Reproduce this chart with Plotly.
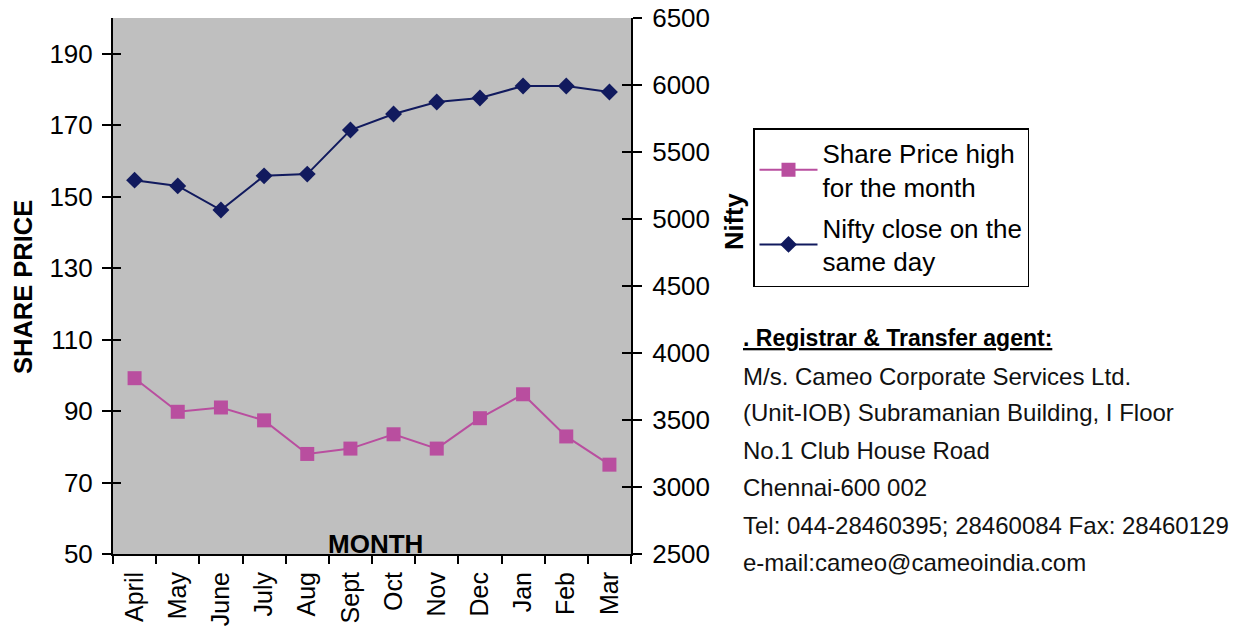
import plotly.graph_objects as go

months = ["April", "May", "June", "July", "Aug", "Sept", "Oct", "Nov", "Dec", "Jan", "Feb", "Mar"]
share_price_high = [99.2, 89.8, 91.0, 87.4, 78.0, 79.5, 83.5, 79.5, 88.0, 94.7, 82.9, 75.0]
nifty_close = [5290, 5247, 5067, 5322, 5335, 5664, 5784, 5873, 5903, 5993, 5993, 5948]

left_ticks = [50, 70, 90, 110, 130, 150, 170, 190]
right_ticks = [2500, 3000, 3500, 4000, 4500, 5000, 5500, 6000, 6500]

info_lines = [
    "M/s. Cameo Corporate Services Ltd.",
    "(Unit-IOB) Subramanian Building, I Floor",
    "No.1 Club House Road",
    "Chennai-600 002",
    "Tel: 044-28460395; 28460084 Fax: 28460129",
    "e-mail:cameo@cameoindia.com",
]

FONT = "Arial, Liberation Sans, sans-serif"
PINK = "#B94E9F"
NAVY = "#111A5E"

fig = go.Figure()
fig.add_trace(go.Scatter(
    x=months, y=share_price_high, name="Share Price high<br>for the month",
    legendgroup="a",
    mode="lines+markers", line=dict(color=PINK, width=2),
    marker=dict(symbol="square", size=14, color=PINK), yaxis="y", xaxis="x"))
fig.add_trace(go.Scatter(
    x=months, y=nifty_close, name="Nifty close on the<br>same day",
    legendgroup="b",
    mode="lines+markers", line=dict(color=NAVY, width=2),
    marker=dict(symbol="diamond", size=13, color=NAVY), yaxis="y2", xaxis="x"))
# invisible helpers so that inside-tick overlay axes are drawn (ticks crossing axis lines)
fig.add_trace(go.Scatter(x=months, y=share_price_high, yaxis="y3", mode="lines",
                         line=dict(width=0, color="rgba(0,0,0,0)"), showlegend=False, hoverinfo="skip"))
fig.add_trace(go.Scatter(x=months, y=nifty_close, yaxis="y4", mode="lines",
                         line=dict(width=0, color="rgba(0,0,0,0)"), showlegend=False, hoverinfo="skip"))

axis_font = dict(family=FONT, size=26, color="#000")

fig.update_layout(
    width=1240, height=628,
    margin=dict(l=113, r=609, t=18, b=74, autoexpand=False),
    paper_bgcolor="white", plot_bgcolor="#BFBFBF",
    font=dict(family=FONT, size=26, color="#000"),
    xaxis=dict(type="category", range=[-0.5, 11.5], tickson="boundaries",
               ticks="outside", ticklen=8, tickwidth=2, tickcolor="#000",
               showline=True, linecolor="#000", linewidth=2, showgrid=False,
               tickangle=-90, tickfont=dict(family=FONT, size=25, color="#000"),
               ticklabelstandoff=6, automargin=False),
    yaxis=dict(range=[50, 200], tickvals=left_ticks, ticks="outside", ticklen=9,
               tickwidth=2, tickcolor="#000", showline=True, linecolor="#000",
               linewidth=2, showgrid=False, zeroline=False, tickfont=axis_font,
               ticklabelstandoff=4, automargin=False),
    yaxis2=dict(range=[2500, 6500], tickvals=right_ticks, overlaying="y", side="right",
                anchor="x", ticks="outside", ticklen=9, tickwidth=2, tickcolor="#000",
                showline=True, linecolor="#000", linewidth=2, showgrid=False,
                zeroline=False, tickfont=axis_font, ticklabelstandoff=5, automargin=False),
    yaxis3=dict(range=[50, 200], tickvals=left_ticks, overlaying="y", side="left",
                anchor="x", ticks="inside", ticklen=8, tickwidth=2, tickcolor="#000",
                showticklabels=False, showline=False, showgrid=False, zeroline=False,
                automargin=False),
    yaxis4=dict(range=[2500, 6500], tickvals=right_ticks, overlaying="y", side="right",
                anchor="x", ticks="inside", ticklen=9, tickwidth=2, tickcolor="#000",
                showticklabels=False, showline=False, showgrid=False, zeroline=False,
                automargin=False),
    legend=dict(x=(753 - 113) / 518, y=(554 - 128) / 536, xanchor="left", yanchor="top",
                bgcolor="white", bordercolor="#000", borderwidth=1.5,
                font=dict(family=FONT, size=26, color="#000"),
                tracegroupgap=4, itemwidth=58),
    showlegend=True,
)

# axis titles
fig.add_annotation(text="<b>SHARE PRICE</b>", xref="paper", yref="paper",
                   x=(23 - 113) / 518, y=(554 - 287) / 536, textangle=-90,
                   xanchor="center", yanchor="middle",
                   showarrow=False, font=dict(family=FONT, size=25.5, color="#000"))
fig.add_annotation(text="<b>Nifty</b>", xref="paper", yref="paper",
                   x=(734 - 113) / 518, y=(554 - 222) / 536, textangle=-90,
                   xanchor="center", yanchor="middle",
                   showarrow=False, font=dict(family=FONT, size=25.5, color="#000"))
fig.add_annotation(text="<b>MONTH</b>", xref="paper", yref="paper",
                   x=(375 - 113) / 518, y=(554 - 544) / 536, xanchor="center", yanchor="middle",
                   showarrow=False, font=dict(family=FONT, size=26, color="#000"))

# registrar info
text_x = (741 - 113) / 518
fig.add_annotation(text="<u><b>. Registrar & Transfer agent:</b></u>", xref="paper", yref="paper",
                   x=text_x, y=(554 - 338) / 536, xanchor="left", yanchor="middle",
                   showarrow=False, font=dict(family=FONT, size=23, color="#000"))
line_y = [376, 412, 450, 487, 525, 562]
for txt, py in zip(info_lines, line_y):
    fig.add_annotation(text=txt, xref="paper", yref="paper", x=text_x, y=(554 - py) / 536,
                       xanchor="left", yanchor="middle", showarrow=False,
                       font=dict(family=FONT, size=24, color="#111"))

fig.write_html("out.html", config={"displayModeBar": False},
               post_script="document.body.style.margin='0';document.body.style.overflow='hidden';")
